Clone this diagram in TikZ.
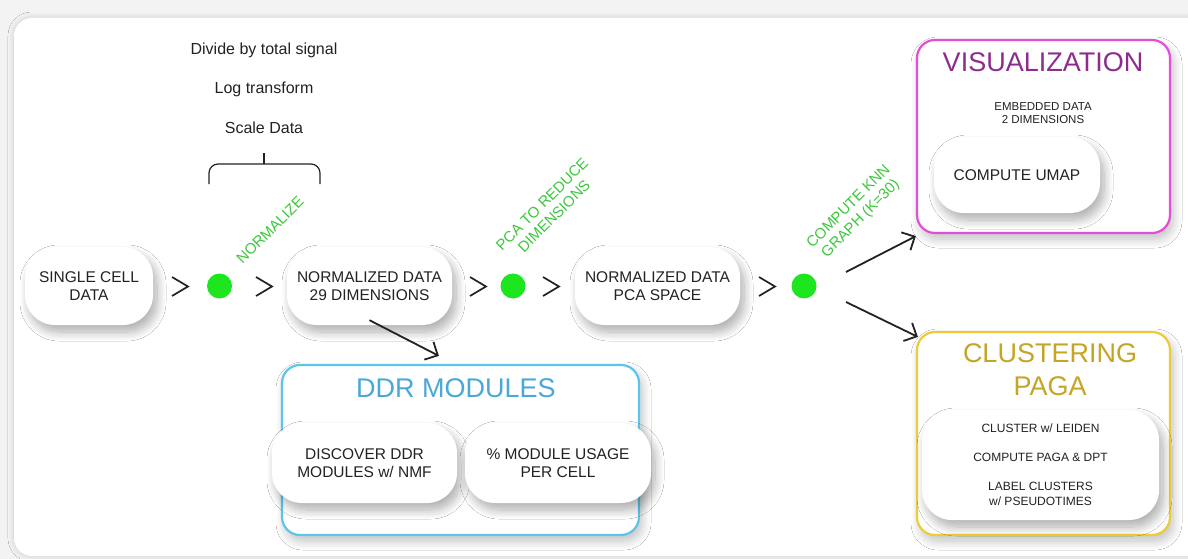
\documentclass[tikz,border=0pt]{standalone}
\usepackage{fontspec}
\setmainfont{Liberation Sans}
\usetikzlibrary{arrows.meta,calc,shadows.blur}
\definecolor{bggray}{HTML}{F3F3F3}
\definecolor{dotgreen}{HTML}{1EE61E}
\definecolor{lblgreen}{HTML}{3CC83C}
\definecolor{vismag}{HTML}{E24FD6}
\definecolor{vistitle}{HTML}{8E2C8E}
\definecolor{cluyel}{HTML}{EBCB3A}
\definecolor{clutitle}{HTML}{C5A526}
\definecolor{ddrblue}{HTML}{5CC6EA}
\definecolor{ddrtitle}{HTML}{4AA8D6}
\definecolor{txt}{HTML}{222222}
\tikzset{
  pill/.style={fill=white, rounded corners=30pt, align=center, text=txt,
    font=\fontsize{15.5}{18}\selectfont, inner sep=0pt,
    blur shadow={shadow xshift=4pt, shadow yshift=-7pt, shadow blur steps=12, shadow opacity=32, shadow blur radius=9pt}},
  groupbox/.style={fill=white, line width=2.2pt, rounded corners=18pt, inner sep=0pt,
    blur shadow={shadow xshift=3pt, shadow yshift=-6pt, shadow blur steps=12, shadow opacity=25, shadow blur radius=9pt}},
  dot/.style={circle, fill=dotgreen, minimum size=25pt, inner sep=0pt},
  greenlbl/.style={text=lblgreen, rotate=45, align=center, font=\fontsize{15}{17}\selectfont},
  chev/.style={line width=1.7pt, line join=miter, txt},
  arr/.style={line width=1.8pt, txt, -{Straight Barb[length=10pt,width=20pt,line width=1.8pt]}},
  plain/.style={text=txt, align=center},
  title/.style={align=center, font=\fontsize{27}{33}\selectfont}
}
\begin{document}
\begin{tikzpicture}[x=1pt,y=-1pt]
\useasboundingbox (0,0) rectangle (1188,559);
\fill[bggray] (0,0) rectangle (1188,559);
\fill[white, rounded corners=18pt, blur shadow={shadow xshift=0pt, shadow yshift=0pt, shadow blur steps=8, shadow opacity=15, shadow blur radius=6pt}] (14,18) rectangle (1210,556);

% top text and brace
\node[plain, font=\fontsize{16}{19}\selectfont] (t1) at (264,50) {Divide by total signal};
\node[plain, font=\fontsize{16}{19}\selectfont] (t2) at (264,89) {Log transform};
\node[plain, font=\fontsize{16}{19}\selectfont] (t3) at (264,128) {Scale Data};
\draw[line width=1.2pt, txt, rounded corners=9pt] (209,184) -- (209,164) -- (320,164) -- (320,184);
\draw[line width=1.2pt, txt] (264,164) -- (264,153);

% main row
\node[pill, minimum width=128pt, minimum height=78pt] (n1) at (89,286) {SINGLE CELL\\DATA};
\draw[chev] (172,277) -- (188,286.5) -- (172,296);
\node[dot] (d1) at (219.5,286) {};
\draw[chev] (256,277) -- (272,286.5) -- (256,296);
\node[pill, minimum width=165pt, minimum height=78pt] (n2) at (369.5,286) {NORMALIZED DATA\\29 DIMENSIONS};
\draw[chev] (470,277) -- (486,286.5) -- (470,296);
\node[dot] (d2) at (513,286) {};
\draw[chev] (543,277) -- (559,286.5) -- (543,296);
\node[pill, minimum width=165pt, minimum height=78pt] (n3) at (657.5,286) {NORMALIZED DATA\\PCA SPACE};
\draw[chev] (759,277) -- (775,286.5) -- (759,296);
\node[dot] (d3) at (804,286) {};

% green labels
\node[greenlbl] (g1) at (270,230) {NORMALIZE};
\node[greenlbl] (g2) at (548,210) {PCA TO REDUCE\\DIMENSIONS};
\node[greenlbl] (g3) at (855,213) {COMPUTE KNN\\GRAPH (K=30)};

% visualization
\node[groupbox, draw=vismag, minimum width=253pt, minimum height=193pt] (vis) at (1043.5,136.5) {};
\node[title, text=vistitle] (vist) at (1043,62) {VISUALIZATION};
\node[plain, font=\fontsize{11.5}{13.5}\selectfont] (emb) at (1043,113) {EMBEDDED DATA\\2 DIMENSIONS};
\node[pill, minimum width=166pt, minimum height=76pt] (umap) at (1017,175) {COMPUTE UMAP};

% clustering
\node[groupbox, draw=cluyel, minimum width=253pt, minimum height=203pt] (clu) at (1043.5,433.5) {};
\node[title, text=clutitle] (clut) at (1050,370) {CLUSTERING\\PAGA};
\node[pill, minimum width=237pt, minimum height=110pt, font=\fontsize{12}{15}\selectfont] (clup) at (1040.5,465)
  {CLUSTER w/ LEIDEN\\[14pt]COMPUTE PAGA \& DPT\\[14pt]LABEL CLUSTERS\\w/ PSEUDOTIMES};

% DDR modules
\node[groupbox, draw=ddrblue, minimum width=357pt, minimum height=170pt] (ddr) at (460.5,450) {};
\node[title, text=ddrtitle] (ddrt) at (456,388) {DDR MODULES};
\node[pill, minimum width=185pt, minimum height=80pt] (p1) at (364.5,463) {DISCOVER DDR\\MODULES w/ NMF};
\node[pill, minimum width=186pt, minimum height=80pt] (p2) at (558,463) {\% MODULE USAGE\\PER CELL};

% arrows
\draw[arr] ($(n2.south)+(0,-5)$) -- ($(ddr.north west)+(158,-8)$);
\draw[arr] ($(d3)+(42,-14)$) -- ($(vis.south west)+(0,2)$);
\draw[arr] ($(d3)+(42,16)$) -- ($(clu.north west)+(2,6)$);
\end{tikzpicture}
\end{document}
